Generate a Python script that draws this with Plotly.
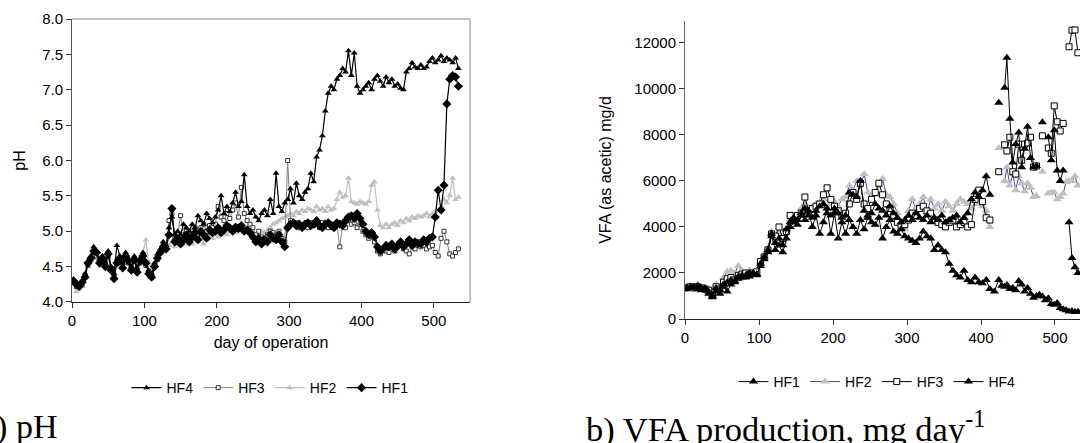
import plotly.graph_objects as go

# ---------------- pH chart data ----------------
ph_days = [2, 6, 10, 14, 18, 22, 26, 30, 34, 38,
           42, 46, 50, 54, 58, 62, 66, 70, 74, 78,
           82, 86, 90, 94, 98, 102, 106, 110, 114, 118,
           122, 126, 130, 134, 138, 142, 146, 150, 154, 158,
           162, 166, 170, 174, 178, 182, 186, 190, 194, 198,
           202, 206, 210, 214, 218, 222, 226, 230, 234, 238,
           242, 246, 250, 254, 258, 262, 266, 270, 274, 278,
           282, 286, 290, 294, 298, 302, 306, 310, 314, 318,
           322, 326, 330, 334, 338, 342, 346, 350, 354, 358,
           362, 366, 370, 374, 378, 382, 386, 390, 394, 398,
           402, 406, 410, 414, 418, 422, 426, 430, 434, 438,
           442, 446, 450, 454, 458, 462, 466, 470, 474, 478,
           482, 486, 490, 494, 498, 502, 506, 510, 514, 518,
           522, 526, 530, 534]

ph_hf4 = [4.32, 4.28, 4.25, 4.30, 4.40, 4.58, 4.65, 4.78, 4.72, 4.60,
          4.65, 4.55, 4.72, 4.50, 4.40, 4.80, 4.65, 4.55, 4.70, 4.62,
          4.50, 4.65, 4.48, 4.62, 4.70, 4.58, 4.45, 4.40, 4.55, 4.68,
          4.75, 4.85, 4.80, 5.05, 5.20, 4.95, 5.00, 4.95, 5.10, 5.05,
          5.00, 5.10, 5.05, 5.22, 5.15, 5.10, 5.25, 5.18, 5.12, 5.20,
          5.30, 5.50, 5.25, 5.35, 5.28, 5.40, 5.55, 5.35, 5.42, 5.80,
          5.35, 5.25, 5.30, 5.20, 5.15, 5.25, 5.30, 5.22, 5.45, 5.25,
          5.82, 5.35, 5.28, 5.40, 5.45, 5.60, 5.40, 5.68, 5.50, 5.45,
          5.55, 5.60, 5.82, 5.70, 6.05, 6.15, 6.35, 6.70, 6.95, 7.05,
          7.00, 7.15, 7.20, 7.30, 7.25, 7.55, 7.20, 7.52, 7.05, 6.95,
          7.00, 7.05, 7.10, 7.00, 7.15, 7.20, 7.12, 7.05, 7.18, 7.10,
          7.15, 7.05, 7.08, 7.02, 7.00, 7.25, 7.30, 7.38, 7.32, 7.30,
          7.35, 7.30, 7.32, 7.40, 7.45, 7.38, 7.42, 7.48, 7.40, 7.45,
          7.42, 7.38, 7.45, 7.30]

ph_hf3 = [4.28, 4.22, 4.25, 4.25, 4.38, 4.52, 4.60, 4.70, 4.65, 4.58,
          4.60, 4.55, 4.65, 4.48, 4.38, 4.58, 4.55, 4.50, 4.62, 4.55,
          4.48, 4.58, 4.45, 4.55, 4.60, 4.52, 4.42, 4.38, 4.52, 4.60,
          4.72, 4.80, 4.78, 5.15, 5.25, 4.90, 4.95, 5.22, 4.95, 5.00,
          4.92, 5.00, 5.05, 4.98, 5.05, 5.10, 5.00, 5.08, 5.05, 5.10,
          5.35, 5.20, 5.15, 5.25, 5.18, 5.30, 5.40, 5.20, 5.62, 5.25,
          5.15, 5.10, 5.05, 4.95, 5.00, 4.92, 4.90, 4.95, 5.00, 4.98,
          4.95, 5.00, 4.90, 4.85, 6.00, 5.15, 5.10, 5.12, 5.05, 5.08,
          5.10, 5.05, 5.12, 5.08, 5.10, 5.05, 5.12, 5.08, 5.05, 5.10,
          5.05, 5.10, 4.78, 5.10, 5.05, 5.15, 5.10, 5.12, 5.05, 5.10,
          5.00, 4.95, 4.90, 4.92, 4.85, 4.72, 4.68, 4.75, 4.72, 4.70,
          4.75, 4.72, 4.78, 4.80, 4.75, 4.72, 4.68, 4.78, 4.75, 4.80,
          4.78, 4.80, 4.75, 4.78, 4.80, 4.70, 4.65, 4.90, 5.00, 4.85,
          4.68, 4.65, 4.70, 4.75]

ph_hf2 = [4.25, 4.15, 4.18, 4.22, 4.35, 4.50, 4.58, 4.65, 4.62, 4.55,
          4.58, 4.50, 4.62, 4.45, 4.40, 4.55, 4.60, 4.52, 4.60, 4.55,
          4.52, 4.62, 4.50, 4.58, 4.70, 4.88, 4.55, 4.45, 4.55, 4.60,
          4.68, 4.75, 4.78, 4.80, 4.85, 4.78, 4.82, 4.80, 4.85, 4.82,
          4.85, 4.82, 4.88, 4.85, 4.92, 4.82, 4.88, 4.92, 4.90, 4.95,
          4.92, 4.95, 4.98, 4.95, 5.00, 5.02, 4.98, 5.00, 5.02, 4.98,
          5.00, 4.95, 4.98, 4.95, 4.92, 5.00, 4.98, 5.02, 5.05, 5.10,
          5.12, 5.15, 5.18, 5.20, 5.22, 5.25, 5.22, 5.28, 5.25, 5.30,
          5.28, 5.32, 5.30, 5.28, 5.35, 5.30, 5.32, 5.28, 5.35, 5.30,
          5.32, 5.45, 5.55, 5.48, 5.50, 5.75, 5.42, 5.40, 5.38, 5.42,
          5.40, 5.38, 5.42, 5.65, 5.70, 5.30, 5.08, 5.05, 5.10, 5.05,
          5.10, 5.12, 5.08, 5.15, 5.12, 5.18, 5.15, 5.20, 5.18, 5.22,
          5.20, 5.22, 5.25, 5.20, 5.25, 5.28, 5.30, 5.35, 5.45, 5.40,
          5.50, 5.75, 5.45, 5.48]

ph_hf1 = [4.30, 4.25, 4.22, 4.28, 4.35, 4.55, 4.62, 4.72, 4.70, 4.55,
          4.62, 4.50, 4.68, 4.45, 4.33, 4.55, 4.62, 4.48, 4.65, 4.58,
          4.45, 4.60, 4.42, 4.58, 4.65, 4.55, 4.40, 4.35, 4.50, 4.62,
          4.70, 4.78, 4.75, 4.95, 5.32, 4.85, 4.90, 4.82, 4.88, 4.95,
          4.85, 4.92, 4.98, 4.88, 5.00, 4.95, 4.90, 5.02, 4.98, 5.00,
          5.05, 4.98, 5.02, 5.08, 5.05, 5.00, 5.06, 5.04, 5.08, 5.00,
          5.02, 4.98, 4.92, 4.85, 4.90, 4.82, 4.88, 4.85, 4.95, 4.90,
          4.88, 4.95, 4.85, 4.78, 5.05, 5.10, 5.12, 5.08, 5.10, 5.05,
          5.10, 5.12, 5.08, 5.10, 5.15, 5.08, 5.05, 5.10, 5.12, 5.08,
          5.05, 5.12, 5.10, 5.08, 5.15, 5.20, 5.22, 5.18, 5.25, 5.18,
          5.10, 5.00, 4.95, 4.98, 4.92, 4.78, 4.72, 4.75, 4.80, 4.78,
          4.82, 4.75, 4.80, 4.85, 4.78, 4.82, 4.88, 4.80, 4.85, 4.83,
          4.82, 4.88, 4.85, 4.90, 4.92, 5.20, 5.58, 5.30, 5.65, 6.80,
          7.15, 7.20, 7.18, 7.05]

# ---------------- VFA chart data ----------------
vfa_days = [2, 7, 12, 17, 22, 27, 32, 37, 42, 47,
            52, 57, 62, 67, 72, 77, 82, 87, 92, 97,
            102, 107, 112, 117, 122, 127, 132, 137, 142, 147,
            152, 157, 162, 167, 172, 177, 182, 187, 192, 197,
            202, 207, 212, 217, 222, 227, 232, 237, 242, 247,
            252, 257, 262, 267, 272, 277, 282, 287, 292, 297,
            302, 307, 312, 317, 322, 327, 332, 337, 342, 347,
            352, 357, 362, 367, 372, 377, 382, 387, 392, 397,
            402, 407, 412,
            418, 424, 428, 432, 435, 439, 443, 447, 451, 455,
            459, 463, 467, 471, 475, 479, 483, 487, 491, 495,
            499, 503, 507, 511, 515, 519, 523, 527, 531]

vfa_hf1 = [1350, 1400, 1380, 1450, 1350, 1300, 1200, 1000, 1350, 1250,
           1500, 1600, 1700, 1650, 1850, 1900, 1800, 2000, 1950, 1900,
           2400, 2700, 3000, 3700, 3300, 3500, 3200, 3900, 4200, 4400,
           4300, 4600, 4800, 4500, 4400, 4700, 4900, 5000, 4600, 4500,
           4800, 4600, 4400, 4500, 5500, 5400, 5300, 6000, 4700, 4500,
           4600, 5000, 4800, 4700, 4500, 4900, 4600, 4400, 4200, 4300,
           4500, 4300, 4600, 4400, 4300, 4500, 4200, 4400, 4300, 4500,
           4200, 4300, 4400, 4500, 4200, 4400, 4600, 5200, 5500, 5300,
           5600, 6200, 5400,
           None, 9400, None, 10050, 11350, 8700, 6800, 7600, 8100, 6600,
           7400, 8350, 7000, 6600, 6650, None, 8550, None, 7900, 6900,
           8200, 6450, 6000, 6450, None, 4200, 2650, 2250, 2000]

vfa_hf2 = [1400, 1450, 1400, 1500, 1400, 1350, 1300, 1050, 1500, 1400,
           1800, 2050, 2100, 2000, 2300, 2100, 2000, 2100, 2050, 2000,
           2500, 2800, 3100, 3800, 3500, 3700, 3400, 3900, 4300, 4500,
           4500, 4800, 5000, 4600, 4700, 5000, 5100, 5200, 4800, 5000,
           5100, 4900, 5200, 5300, 5800, 5600, 6000, 5800, 6300, 5500,
           5200, 5400, 5800, 6100, 5400, 5300, 5000, 4600, 4200, 3900,
           4700, 5200, 4800, 5000, 5300, 4600, 5200, 4800, 5000, 4700,
           5100, 4900, 4700, 5000, 5200, 5100, 5000, 4800, 5100, 5000,
           4900, 4700, 4000,
           None, 7430, None, 6000, 6600, 5800, 6300, 5600, 6200, 5900,
           5550, 5900, 5700, 5300, 5350, None, 6400, None, 5450, 5500,
           5500, 5200, 5300, 5450, 5950, 6000, 6000, 6200, 5800]

vfa_hf3 = [1350, 1400, 1350, 1400, 1350, 1300, 1250, 1050, 1400, 1300,
           1600, 1750, 1800, 1700, 1900, 1950, 2000, 1950, 2000, 2050,
           2500, 2700, 3000, 3700, 3600, 4000, 3500, 3800, 4500, 4300,
           4500, 4600, 5300, 4700, 4800, 4900, 5000, 5400, 5700, 5200,
           4900, 4700, 4500, 4600, 5000, 5500, 5200, 5900, 5000, 4800,
           5200, 5500, 5900, 5400, 5000, 4800, 4500, 4200, 4000, 4100,
           4300, 4600, 4500, 4800, 4900, 4700, 4600, 4300, 4200, 4100,
           4000, 4200, 4300, 4000, 4100, 4200, 4000, 4100, 5200, 5600,
           5100, 4400, 4300,
           None, 6400, None, 7570, 7300, 7900, 6400, 6300, 7600, 6900,
           7600, 7650, 7900, 6600, 6650, None, 7960, None, 7430, 7200,
           9260, 8570, 8170, 8500, None, 11830, 12550, 12560, 11570]

vfa_hf4 = [1300, 1350, 1400, 1300, 1250, 1350, 1100, 950, 1200, 1100,
           1400, 1200, 1500, 1600, 1750, 1800, 1900, 1850, 2000, 1950,
           2300, 2600, 2900, 3600, 3000, 3200, 2900, 3500, 4000, 4200,
           4100, 4500, 4300, 4700, 4000, 4500, 3700, 4200, 4800, 3700,
           4600, 3500, 4200, 3700, 4300, 4000, 3700, 4300, 3900, 4400,
           4200, 4100, 4400, 3500, 4000, 4300, 3800, 3700, 3900, 3600,
           3500, 3400, 3300, 3500, 3800, 3600, 3500, 3000, 3200, 3000,
           2900, 2400, 2100, 1900, 1800, 2100, 1700, 1600, 1800, 1600,
           1550, 1700, 1300,
           1200, 1700, 1450, 1400, 1480, 1300, 1350, 1250, 1650, 1500,
           1200, 1350, 1100, 920, 1000, 1050, 980, 820, 900, 650,
           620, 700, 480, 420, 380, 330, 350, 300, 320]

ph_ticks = [0, 100, 200, 300, 400, 500]
vfa_xticks = [0, 100, 200, 300, 400, 500]
vfa_yticks = [0, 2000, 4000, 6000, 8000, 10000, 12000]

SANS = "Liberation Sans, Arial, sans-serif"
SERIF = "Liberation Serif, Times New Roman, serif"

fig = go.Figure()

# ---- left: pH ----
fig.add_trace(go.Scatter(x=ph_days, y=ph_hf2, name="HF2", mode="lines+markers",
                         line=dict(color="#c0c0c0", width=1.2),
                         marker=dict(symbol="triangle-up", size=6, color="#c0c0c0"),
                         xaxis="x", yaxis="y", legend="legend", legendrank=3))
fig.add_trace(go.Scatter(x=ph_days, y=ph_hf3, name="HF3", mode="lines+markers",
                         line=dict(color="#808080", width=1),
                         marker=dict(symbol="square", size=4, color="white",
                                     line=dict(color="#333333", width=1)),
                         xaxis="x", yaxis="y", legend="legend", legendrank=2))
fig.add_trace(go.Scatter(x=ph_days, y=ph_hf4, name="HF4", mode="lines+markers",
                         line=dict(color="black", width=1.2),
                         marker=dict(symbol="triangle-up", size=6, color="black"),
                         xaxis="x", yaxis="y", legend="legend", legendrank=1))
fig.add_trace(go.Scatter(x=ph_days, y=ph_hf1, name="HF1", mode="lines+markers",
                         line=dict(color="black", width=1.2),
                         marker=dict(symbol="diamond", size=7, color="black"),
                         xaxis="x", yaxis="y", legend="legend", legendrank=4))

# ---- right: VFA ----
fig.add_trace(go.Scatter(x=vfa_days, y=vfa_hf2, name="HF2", mode="lines+markers",
                         line=dict(color="#1a1a8c", width=0.8),
                         marker=dict(symbol="triangle-up", size=8, color="#c0c0c0"),
                         xaxis="x2", yaxis="y2", legend="legend2", legendrank=2))
fig.add_trace(go.Scatter(x=vfa_days, y=vfa_hf3, name="HF3", mode="lines+markers",
                         line=dict(color="black", width=1),
                         marker=dict(symbol="square", size=6, color="white",
                                     line=dict(color="black", width=1)),
                         xaxis="x2", yaxis="y2", legend="legend2", legendrank=3))
fig.add_trace(go.Scatter(x=vfa_days, y=vfa_hf4, name="HF4", mode="lines+markers",
                         line=dict(color="black", width=1),
                         marker=dict(symbol="triangle-up", size=8, color="black"),
                         xaxis="x2", yaxis="y2", legend="legend2", legendrank=4))
fig.add_trace(go.Scatter(x=vfa_days, y=vfa_hf1, name="HF1", mode="lines+markers",
                         line=dict(color="black", width=1),
                         marker=dict(symbol="triangle-up", size=8, color="black"),
                         xaxis="x2", yaxis="y2", legend="legend2", legendrank=1))

axis_common = dict(showgrid=False, zeroline=False, showline=True, ticks="outside",
                   ticklen=5, tickcolor="#333333", automargin=False,
                   tickfont=dict(family=SANS, size=15, color="black"))

fig.update_layout(
    width=1080, height=443,
    margin=dict(l=0, r=0, t=0, b=0, autoexpand=False),
    paper_bgcolor="white", plot_bgcolor="white",
    font=dict(family=SANS, size=15, color="black"),
    xaxis=dict(domain=[0.0667, 0.4352], range=[0, 550], tickvals=ph_ticks,
               linecolor="#222222", anchor="y",
               title=dict(text="day of operation", font=dict(family=SANS, size=16), standoff=8),
               **axis_common),
    yaxis=dict(domain=[0.3183, 0.9571], range=[4, 8], dtick=0.5, tickformat=".1f",
               linecolor="#555555", anchor="x",
               title=dict(text="pH", font=dict(family=SANS, size=16), standoff=12),
               **axis_common),
    xaxis2=dict(domain=[0.6343, 1.0], range=[0, 533.8], tickvals=vfa_xticks,
                linecolor="#222222", anchor="y2", **axis_common),
    yaxis2=dict(domain=[0.2799, 0.9526], range=[0, 12950], tickvals=vfa_yticks,
                tickformat="d", linecolor="#666666", anchor="x2",
                title=dict(text="VFA (as acetic) mg/d", font=dict(family=SANS, size=16), standoff=18),
                **axis_common),
    legend=dict(orientation="h", x=0.25, xanchor="center", y=0.124, yanchor="middle",
                font=dict(family=SANS, size=14), itemwidth=30, bgcolor="rgba(0,0,0,0)"),
    legend2=dict(orientation="h", x=0.812, xanchor="center", y=0.1377, yanchor="middle",
                 font=dict(family=SANS, size=14), itemwidth=30, bgcolor="rgba(0,0,0,0)"),
    showlegend=True,
)

# gray plot-area border (top and right) of the pH chart
fig.add_shape(type="line", xref="x domain", yref="y domain", x0=0, x1=1, y0=1, y1=1,
              line=dict(color="#b0b0b0", width=1.5))
fig.add_shape(type="line", xref="x domain", yref="y domain", x0=1, x1=1, y0=0, y1=1,
              line=dict(color="#b0b0b0", width=1.5))

fig.add_annotation(text="a) pH", xref="paper", yref="paper", x=0.0545, y=0.037,
                   xanchor="right", yanchor="middle", showarrow=False,
                   font=dict(family=SERIF, size=34, color="black"))
fig.add_annotation(text="b) VFA production, mg day<sup>-1</sup>", xref="paper", yref="paper",
                   x=0.5407, y=0.037, xanchor="left", yanchor="middle", showarrow=False,
                   font=dict(family=SERIF, size=34.5, color="black"))

fig.write_html("out.html", config={"displayModeBar": False},
               post_script="document.body.style.margin='0';document.body.style.padding='0';")
